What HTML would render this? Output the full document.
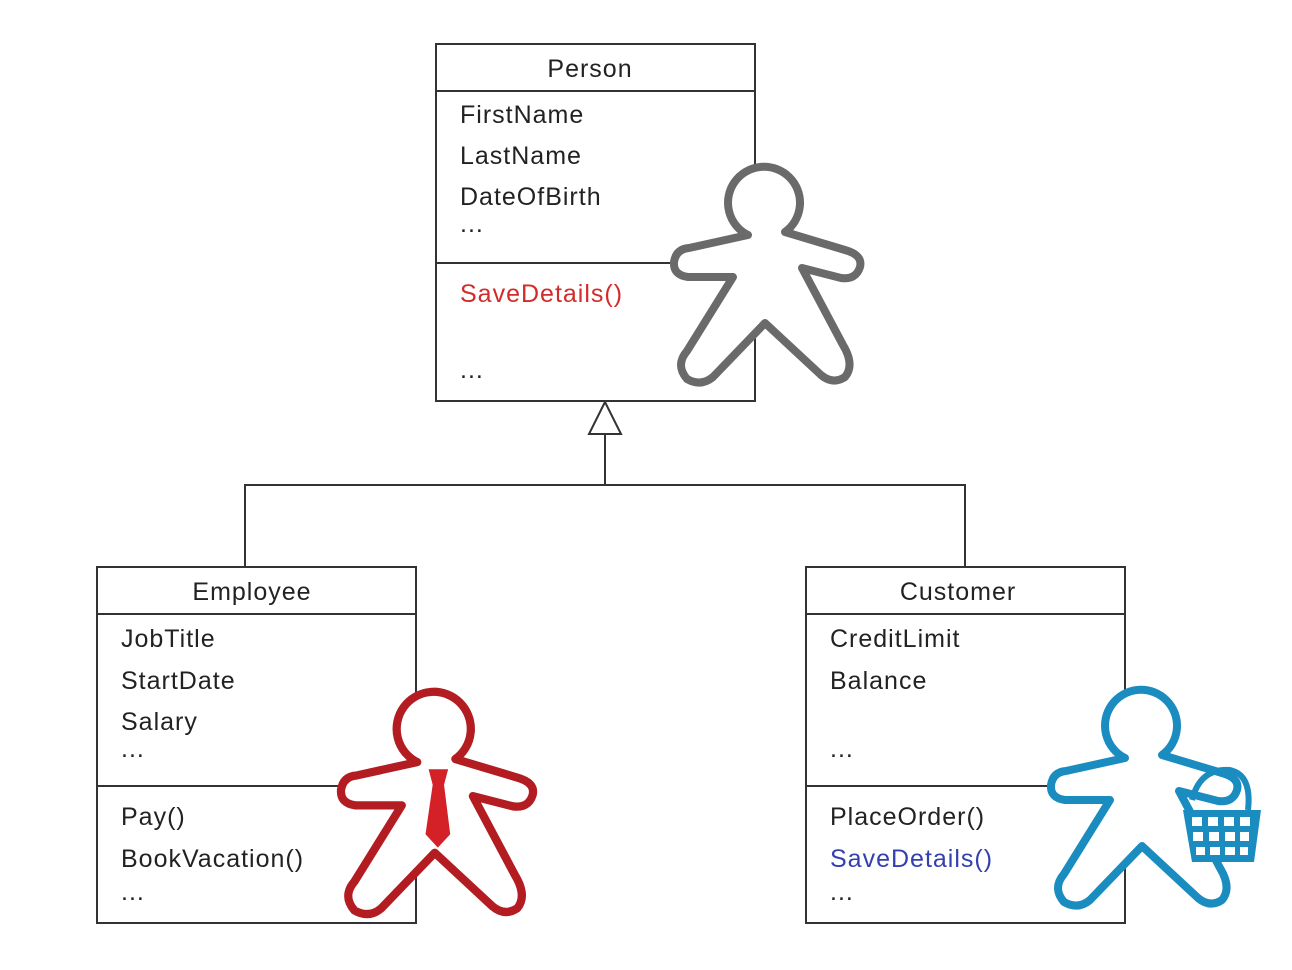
<!DOCTYPE html>
<html><head><style>
body{margin:0;background:#fff;width:1292px;height:965px;overflow:hidden}
svg text{font-family:"Liberation Sans",sans-serif;font-size:25px;letter-spacing:1px;fill:#222}
</style></head><body>
<svg width="1292" height="965" viewBox="0 0 1292 965">
<defs>
<path id="gb" d="M75,70 A36,36 0 1 1 112,67 L172,85 Q190,90 187,102 Q183,115 168,113 L129,103 L170,180 Q182,200 172,212 Q160,220 148,210 L92,158 L40,212 Q28,222 14,214 Q2,200 14,186 L60,112 L15,112 Q0,110 1,97 Q3,84 16,83 Z"/>
</defs>
<g fill="#fff" stroke="#333" stroke-width="2">
<rect x="436" y="44" width="319" height="357"/>
<line x1="436" y1="91" x2="755" y2="91"/><line x1="436" y1="263" x2="755" y2="263"/>
<rect x="97" y="567" width="319" height="356"/>
<line x1="97" y1="614" x2="416" y2="614"/><line x1="97" y1="786" x2="416" y2="786"/>
<rect x="806" y="567" width="319" height="356"/>
<line x1="806" y1="614" x2="1125" y2="614"/><line x1="806" y1="786" x2="1125" y2="786"/>
<polyline fill="none" points="245,567 245,485 965,485 965,567"/>
<line x1="605" y1="485" x2="605" y2="434"/>
<polygon points="605,402 589,434 621,434"/>
</g>
<text x="590" y="77" text-anchor="middle">Person</text>
<text x="460" y="123">FirstName</text><text x="460" y="164">LastName</text><text x="460" y="205">DateOfBirth</text><text x="460" y="232">...</text>
<text x="460" y="302" style="fill:#d42a2a">SaveDetails()</text><text x="460" y="378">...</text>
<text x="252" y="600" text-anchor="middle">Employee</text>
<text x="121" y="647">JobTitle</text><text x="121" y="689">StartDate</text><text x="121" y="730">Salary</text><text x="121" y="757">...</text>
<text x="121" y="825">Pay()</text><text x="121" y="867">BookVacation()</text><text x="121" y="900">...</text>
<text x="958" y="600" text-anchor="middle">Customer</text>
<text x="830" y="647">CreditLimit</text><text x="830" y="689">Balance</text><text x="830" y="757">...</text>
<text x="830" y="825">PlaceOrder()</text><text x="830" y="867" style="fill:#3340b0">SaveDetails()</text><text x="830" y="900">...</text>
<use href="#gb" transform="translate(673,165)" fill="#fff" stroke="#6a6a6a" stroke-width="8" stroke-linejoin="round"/>
<g transform="translate(340,690) scale(1.03)">
<use href="#gb" fill="#fff" stroke="#b31d22" stroke-width="8" stroke-linejoin="round"/>
<polygon points="86,77 105,77 101,92 107,140 95,153 83,140 90,92" fill="#d42027"/>
</g>
<use href="#gb" transform="translate(1050,688)" fill="#fff" stroke="#1a8cc0" stroke-width="8" stroke-linejoin="round"/>
<g>
<path d="M1192,800 Q1200,768 1230,770 Q1252,775 1248,810" fill="none" stroke="#1a8cc0" stroke-width="6"/>
<polygon points="1183,810 1261,810 1254,862 1192,862" fill="#1a8cc0"/>
<g fill="#fff">
<rect x="1192" y="817" width="10" height="9"/><rect x="1208" y="817" width="10" height="9"/><rect x="1224" y="817" width="10" height="9"/><rect x="1240" y="817" width="10" height="9"/>
<rect x="1193" y="832" width="10" height="9"/><rect x="1209" y="832" width="10" height="9"/><rect x="1225" y="832" width="10" height="9"/><rect x="1240" y="832" width="9" height="9"/>
<rect x="1196" y="847" width="9" height="8"/><rect x="1210" y="847" width="10" height="8"/><rect x="1225" y="847" width="10" height="8"/><rect x="1240" y="847" width="8" height="8"/>
</g></g>
</svg>
</body></html>
